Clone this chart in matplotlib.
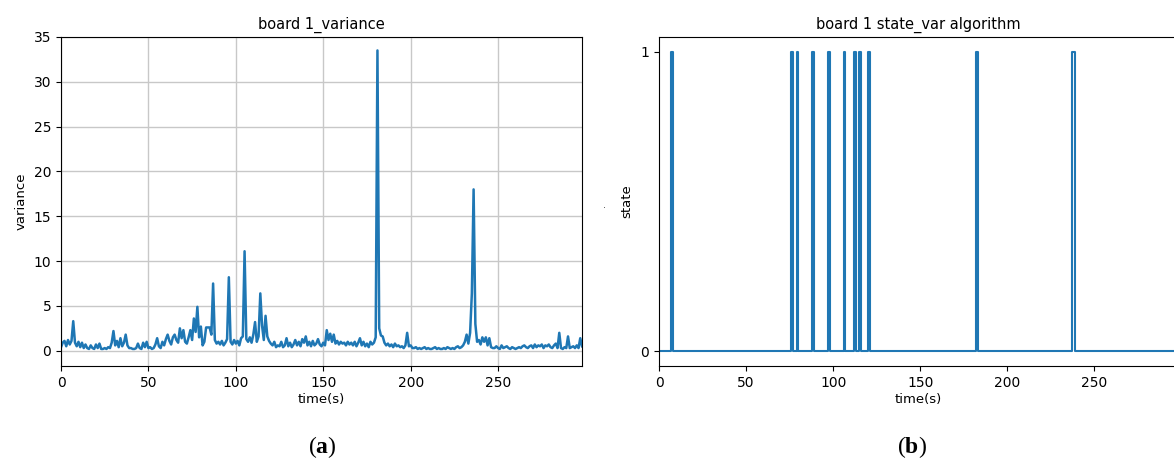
"""
Board 1 variance and state_var algorithm output.
Output: out.png
"""
import matplotlib
matplotlib.use('Agg')
import matplotlib.pyplot as plt
import numpy as np

# ─── Data ───
# variance sampled once per second, t = 0 .. 298 s
variance = [
    0.4, 0.9, 1.1, 0.5, 1.2, 0.7, 1.1, 3.3, 0.9, 0.5,
    1.0, 0.4, 0.9, 0.3, 0.7, 0.3, 0.2, 0.6, 0.3, 0.2,
    0.7, 0.3, 0.8, 0.2, 0.2, 0.3, 0.2, 0.4, 0.3, 0.9,
    2.2, 0.6, 1.1, 0.4, 1.4, 0.5, 0.9, 1.8, 0.6, 0.3,
    0.3, 0.2, 0.2, 0.3, 0.8, 0.3, 0.2, 0.9, 0.4, 1.0,
    0.3, 0.4, 0.2, 0.3, 0.7, 1.4, 0.5, 0.3, 1.0, 0.6,
    1.3, 1.8, 1.1, 0.7, 1.5, 1.8, 1.2, 0.9, 2.5, 1.4,
    2.3, 1.0, 0.8, 1.5, 2.3, 1.2, 3.6, 2.1, 4.9, 1.5,
    2.7, 0.6, 1.0, 2.6, 2.6, 2.6, 1.8, 7.5, 1.2, 0.8,
    1.0, 0.7, 1.1, 0.6, 0.9, 1.3, 8.2, 1.0, 0.7, 1.2,
    0.8, 1.1, 0.6, 1.4, 1.6, 11.1, 1.3, 1.0, 1.5, 0.9,
    1.8, 3.2, 1.0, 1.6, 6.4, 2.8, 1.2, 3.9, 1.6, 1.1,
    0.8, 0.6, 1.0, 0.4, 0.6, 0.5, 1.0, 0.4, 0.6, 1.4,
    0.5, 0.9, 0.4, 0.7, 1.2, 0.6, 1.0, 0.5, 1.3, 0.9,
    1.6, 0.6, 1.0, 0.5, 1.1, 0.6, 0.8, 1.3, 0.7, 0.5,
    0.9, 0.6, 2.3, 1.2, 1.9, 1.0, 1.8, 0.8, 1.1, 0.7,
    1.0, 0.8, 0.9, 0.6, 1.0, 0.7, 0.9, 0.6, 1.0, 0.5,
    0.9, 1.4, 0.6, 1.0, 0.5, 0.8, 0.4, 1.0, 0.7, 0.9,
    1.5, 33.5, 2.5, 1.7, 1.6, 0.9, 0.6, 0.8, 0.5, 0.7,
    0.4, 0.8, 0.5, 0.6, 0.4, 0.5, 0.3, 0.6, 2.0, 0.5,
    0.6, 0.3, 0.3, 0.4, 0.2, 0.3, 0.2, 0.3, 0.4, 0.2,
    0.3, 0.2, 0.2, 0.3, 0.4, 0.2, 0.3, 0.2, 0.2, 0.3,
    0.2, 0.4, 0.3, 0.2, 0.3, 0.2, 0.4, 0.5, 0.3, 0.4,
    0.6, 1.0, 1.8, 0.8, 2.0, 6.4, 18.0, 3.0, 1.0, 1.2,
    0.7, 1.5, 1.0, 1.5, 0.6, 1.4, 0.4, 0.3, 0.3, 0.5,
    0.3, 0.2, 0.6, 0.3, 0.4, 0.5, 0.3, 0.2, 0.4, 0.3,
    0.2, 0.3, 0.4, 0.3, 0.5, 0.6, 0.4, 0.3, 0.5, 0.6,
    0.3, 0.7, 0.4, 0.6, 0.5, 0.7, 0.3, 0.6, 0.5, 0.7,
    0.4, 0.3, 0.6, 0.8, 0.3, 2.0, 0.3, 0.2, 0.4, 0.3,
    1.6, 0.3, 0.4, 0.5, 0.3, 0.6, 0.3, 1.4, 0.5,
]
# seconds where the algorithm reports state 1
state_on = [7, 76, 79, 88, 97, 106, 112, 115, 120, 182, 237, 238]

t = np.arange(len(variance))
state = np.zeros(len(t))
state[state_on] = 1

xticks = [0, 50, 100, 150, 200, 250]

# ─── Figure ───
plt.rcParams['mathtext.fontset'] = 'custom'
plt.rcParams['mathtext.rm'] = 'Liberation Serif'
plt.rcParams['mathtext.bf'] = 'Liberation Serif:bold'

fig = plt.figure(figsize=(11.74, 4.63), dpi=100)
W, H = 1174, 463

# Panel a: variance
ax = fig.add_axes([61 / W, 97 / H, 521 / W, 329 / H])
ax.plot(t, variance, color='#1f77b4', lw=1.8)
ax.set_xlim(0, 298); ax.set_ylim(-1.7, 35)
ax.set_xticks(xticks); ax.set_yticks(range(0, 36, 5))
ax.grid(True, color='#c8c8c8', lw=1)
ax.set_title('board 1_variance', fontsize=10.5, pad=6)
ax.set_xlabel('time(s)', fontsize=9.5, labelpad=2)
ax.set_ylabel('variance', fontsize=9.5)
ax.tick_params(labelsize=10)

# Panel b: state
ax = fig.add_axes([659 / W, 97 / H, 519 / W, 329 / H])
ax.plot(t, state, color='#1f77b4', lw=1.5, drawstyle='steps-post')
ax.set_xlim(0, 298); ax.set_ylim(-0.05, 1.05)
ax.set_xticks(xticks); ax.set_yticks([0, 1])
ax.set_title('board 1 state_var algorithm', fontsize=10.5, pad=6)
ax.set_xlabel('time(s)', fontsize=9.5, labelpad=2)
ax.set_ylabel('state', fontsize=9.5, labelpad=5)
ax.tick_params(labelsize=10)
fig.text(605 / W, 1 - 205 / H, '.', fontsize=7, color='#444444', ha='center', va='center')

# sub-figure labels
fig.text(322 / W, 1 - 447 / H, r'($\mathbf{a}$)', family='Liberation Serif', fontsize=17,
         ha='center', va='center')
fig.text(912 / W, 1 - 447 / H, r'($\mathbf{b}$)', family='Liberation Serif', fontsize=17,
         ha='center', va='center')

plt.savefig('out.png', dpi=100)
print("Saved out.png")
